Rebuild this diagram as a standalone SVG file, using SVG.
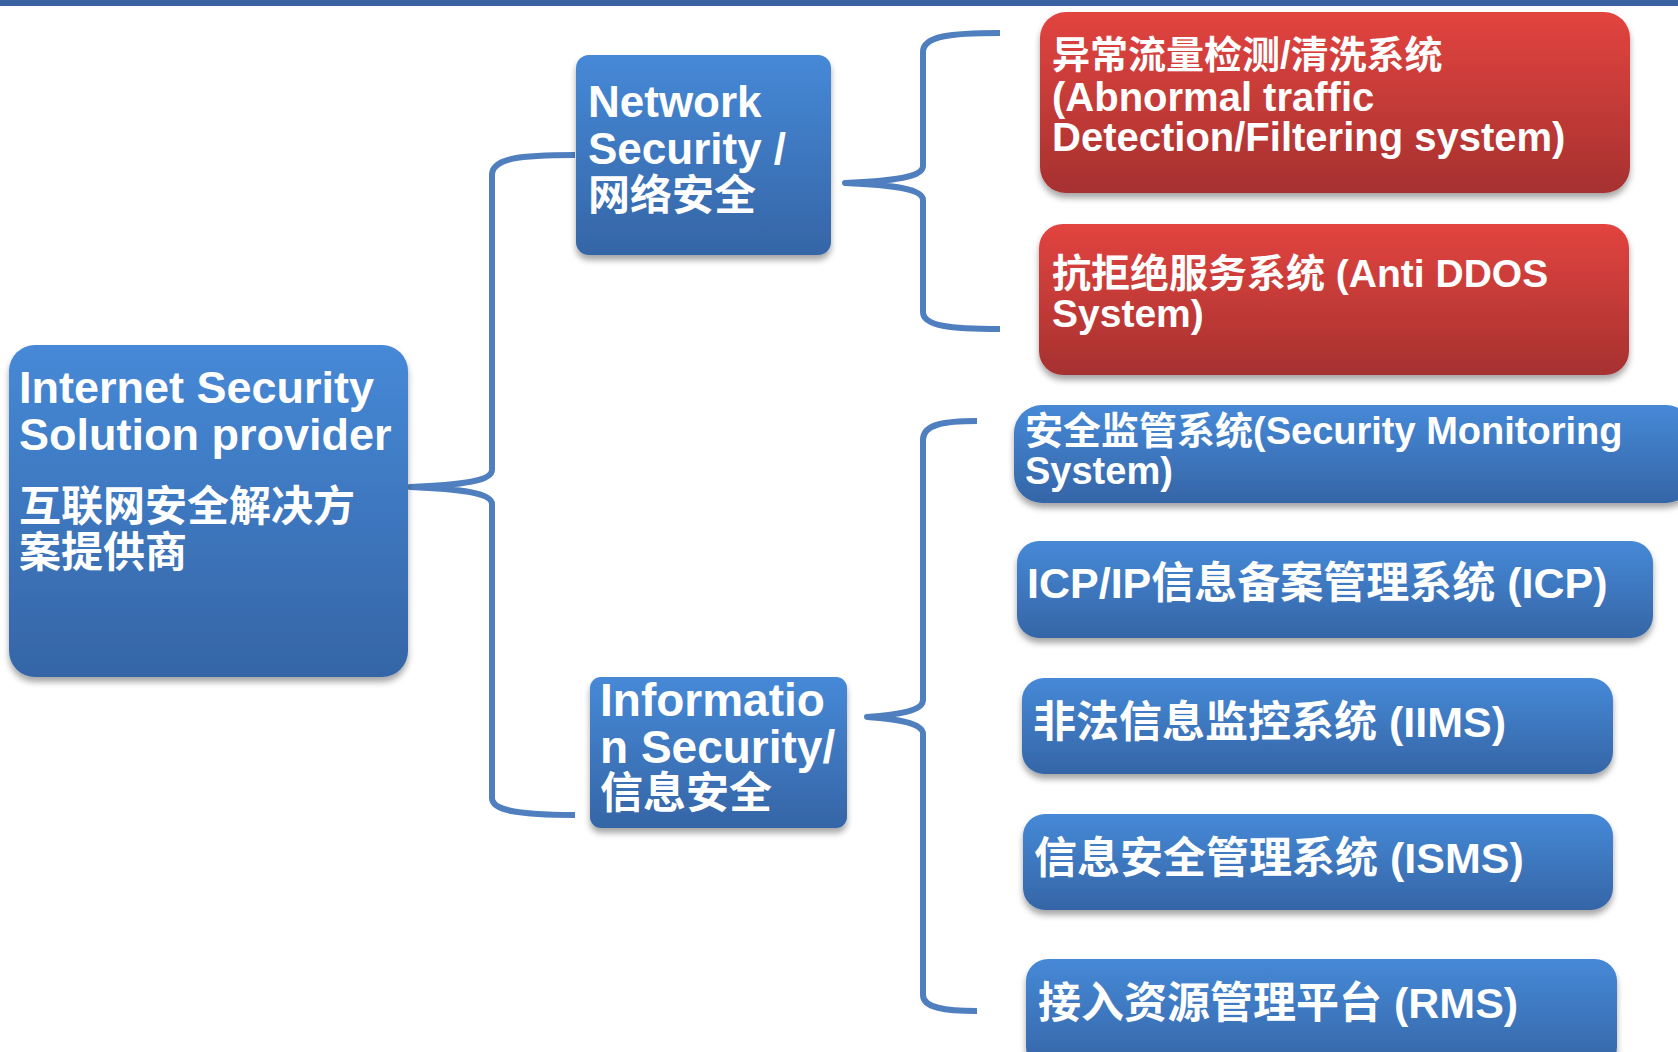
<svg xmlns="http://www.w3.org/2000/svg" width="1678" height="1052" viewBox="0 0 1678 1052">
<defs>
<linearGradient id="gb" x1="0" y1="0" x2="0" y2="1">
<stop offset="0" stop-color="#4689d7"/>
<stop offset="1" stop-color="#3565a6"/>
</linearGradient>
<linearGradient id="gr" x1="0" y1="0" x2="0" y2="1">
<stop offset="0" stop-color="#e2443f"/>
<stop offset="1" stop-color="#a63130"/>
</linearGradient>
<filter id="sh" x="-5%" y="-10%" width="110%" height="130%">
<feDropShadow dx="0" dy="5" stdDeviation="3" flood-color="#000" flood-opacity="0.35"/>
</filter>
</defs>
<style>
.t{font-family:"Liberation Sans","Noto Sans CJK SC",sans-serif;font-weight:bold;fill:#fff}
.blue{fill:url(#gb);filter:url(#sh)}
.red{fill:url(#gr);filter:url(#sh)}
.br{fill:none;stroke:#4f7fbf;stroke-width:6;stroke-linecap:butt;stroke-linejoin:round}
</style>
<rect width="1678" height="1052" fill="#fff"/>
<rect x="0" y="0" width="1678" height="6" fill="#3b62a0"/>

<g id="connectors">
<path class="br" d="M575 155 C520 155 492 158 492 175 L492 470 C492 481 462 485 410 487 C462 489 492 493 492 504 L492 798 C492 811 520 815 575 815"/>
<path class="br" d="M1000 33 C950 33 923 36 923 52 L923 166 C923 177 895 181 845 183 C895 185 923 189 923 200 L923 312 C923 326 950 329 1000 329"/>
<path class="br" d="M977 421 C945 421 923 424 923 440 L923 700 C923 711 897 715 867 717 C897 719 923 723 923 734 L923 995 C923 1008 945 1011 977 1011"/>
</g>

<g id="root">
<rect class="blue" x="9" y="345" width="399" height="332" rx="26"/>
<text class="t" x="19" y="403" font-size="45">Internet Security</text>
<text class="t" x="19" y="450" font-size="45">Solution provider</text>
<text class="t" x="19" y="521" font-size="42">互联网安全解决方</text>
<text class="t" x="19" y="567" font-size="42">案提供商</text>
</g>

<g id="network">
<rect class="blue" x="576" y="55" width="255" height="200" rx="13"/>
<text class="t" x="588" y="117" font-size="44">Network</text>
<text class="t" x="588" y="164" font-size="44">Security /</text>
<text class="t" x="588" y="210" font-size="42">网络安全</text>
</g>

<g id="information">
<rect class="blue" x="590" y="677" width="257" height="151" rx="11"/>
<text class="t" x="600" y="716" font-size="46">Informatio</text>
<text class="t" x="600" y="763" font-size="46">n Security/</text>
<text class="t" x="600" y="808" font-size="43">信息安全</text>
</g>

<g id="abnormal">
<rect class="red" x="1040" y="12" width="590" height="181" rx="26"/>
<text class="t" x="1052" y="68" font-size="38">异常流量检测/清洗系统</text>
<text class="t" x="1052" y="111" font-size="40">(Abnormal traffic</text>
<text class="t" x="1052" y="151" font-size="40">Detection/Filtering system)</text>
</g>

<g id="antiddos">
<rect class="red" x="1039" y="224" width="590" height="151" rx="24"/>
<text class="t" x="1052" y="287" font-size="39">抗拒绝服务系统 (Anti DDOS</text>
<text class="t" x="1052" y="327" font-size="39">System)</text>
</g>

<g id="monitoring">
<rect class="blue" x="1014" y="405" width="680" height="98" rx="28"/>
<text class="t" x="1025" y="444" font-size="38">安全监管系统(Security Monitoring</text>
<text class="t" x="1025" y="484" font-size="38">System)</text>
</g>

<g id="icp">
<rect class="blue" x="1017" y="541" width="636" height="97" rx="22"/>
<text class="t" x="1027" y="598" font-size="43">ICP/IP信息备案管理系统 (ICP)</text>
</g>

<g id="iims">
<rect class="blue" x="1022" y="678" width="591" height="96" rx="22"/>
<text class="t" x="1033" y="737" font-size="43">非法信息监控系统 (IIMS)</text>
</g>

<g id="isms">
<rect class="blue" x="1023" y="814" width="590" height="96" rx="22"/>
<text class="t" x="1034" y="873" font-size="43">信息安全管理系统 (ISMS)</text>
</g>

<g id="rms">
<rect class="blue" x="1026" y="959" width="591" height="110" rx="22"/>
<text class="t" x="1038" y="1018" font-size="43">接入资源管理平台 (RMS)</text>
</g>
</svg>
